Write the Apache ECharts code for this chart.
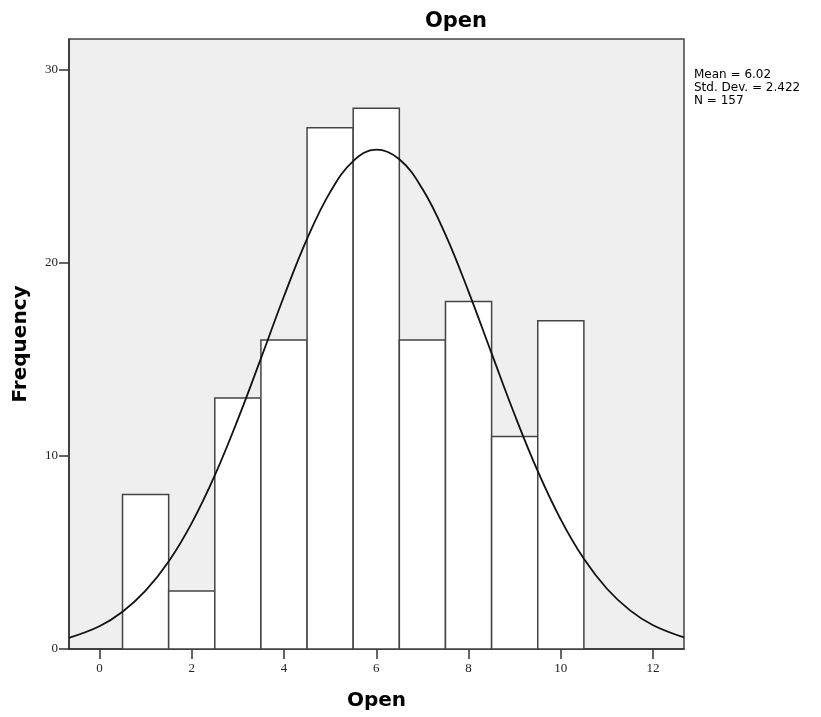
<!DOCTYPE html>
<html>
<head>
<meta charset="utf-8">
<script src="https://cdn.jsdelivr.net/npm/echarts@6/dist/echarts.min.js"></script>
<style>
  html, body { margin: 0; padding: 0; background: #fff; }
  #chart { width: 821px; height: 717px; }
</style>
</head>
<body>
<div id="chart"></div>
<script>
// 直方图分组：每个柱子的起点、终点
const binStart = [0.5, 1.5, 2.5, 3.5, 4.5, 5.5, 6.5, 7.5, 8.5, 9.5]
const binEnd = [1.5, 2.5, 3.5, 4.5, 5.5, 6.5, 7.5, 8.5, 9.5, 10.5]
// 每组频数
const frequency = [8, 3, 13, 16, 27, 28, 16, 18, 11, 17]

// 正态曲线（从图上读取的点）
const curveX = [-0.66, 0, 0.5, 1, 1.5, 2, 2.5, 3, 3.5, 4, 4.5, 5, 5.5, 6, 6.5, 7, 7.5, 8, 8.5, 9, 9.5, 10, 10.5, 11, 11.5, 12, 12.67]
const curveY = [0.58, 1.18, 1.93, 3.02, 4.53, 6.52, 8.99, 11.89, 15.05, 18.27, 21.24, 23.66, 25.27, 25.86, 25.36, 23.83, 21.46, 18.51, 15.31, 12.13, 9.21, 6.70, 4.67, 3.12, 2.00, 1.23, 0.60]

// 刻度标签
const xTicks = [0, 2, 4, 6, 8, 10, 12]
const yTicks = [0, 10, 20, 30]

// 统计信息
const statLines = ['Mean = 6.02', 'Std. Dev. = 2.422', 'N = 157']

const chart = echarts.init(document.getElementById('chart'))

const bars = frequency.map((v, i) => [binStart[i], binEnd[i], v])
const curve = curveX.map((x, i) => [x, curveY[i]])

const tickFont = { fontFamily: 'Liberation Serif', fontSize: 13, color: '#222' }
const nameFont = { fontFamily: 'DejaVu Sans', fontWeight: 'bold', fontSize: 20, color: '#000' }

chart.setOption({
  animation: false,
  title: {
    text: 'Open',
    left: 451,
    top: 6,
    textAlign: 'center',
    textStyle: Object.assign({}, nameFont, { fontSize: 21 })
  },
  grid: {
    left: 69,
    top: 39,
    width: 615,
    height: 610,
    outerBoundsMode: 'none',
    containLabel: false,
    show: true,
    backgroundColor: '#efefef',
    borderColor: '#444',
    borderWidth: 1.5
  },
  xAxis: {
    type: 'value',
    min: -0.66,
    max: 12.67,
    name: 'Open',
    nameLocation: 'middle',
    nameGap: 42,
    nameTextStyle: nameFont,
    axisLine: { show: true, onZero: false, lineStyle: { color: '#333', width: 1.5 } },
    axisTick: { show: true, inside: false, length: 10, customValues: xTicks, lineStyle: { color: '#333', width: 1.5 } },
    axisLabel: Object.assign({ customValues: xTicks, margin: 13 }, tickFont),
    splitLine: { show: false }
  },
  yAxis: {
    type: 'value',
    min: 0,
    max: 31.59,
    name: 'Frequency',
    nameLocation: 'middle',
    nameGap: 38,
    nameTextStyle: nameFont,
    axisLine: { show: true, onZero: false, lineStyle: { color: '#333', width: 1.5 } },
    axisTick: { show: true, inside: false, length: 10, customValues: yTicks, lineStyle: { color: '#333', width: 1.5 } },
    axisLabel: Object.assign({ customValues: yTicks, margin: 11 }, tickFont),
    splitLine: { show: false }
  },
  graphic: [{
    type: 'text',
    left: 694,
    top: 68,
    style: {
      text: statLines.join('\n'),
      font: '12px "DejaVu Sans"',
      lineHeight: 13,
      fill: '#000'
    }
  }],
  series: [{
    type: 'custom',
    data: bars,
    encode: { x: [0, 1], y: 2 },
    renderItem: function (params, api) {
      const p0 = api.coord([api.value(0), 0])
      const p1 = api.coord([api.value(1), api.value(2)])
      return {
        type: 'rect',
        shape: { x: p0[0], y: p1[1], width: p1[0] - p0[0], height: p0[1] - p1[1] },
        style: { fill: '#fff', stroke: '#444', lineWidth: 1.5 }
      }
    }
  }, {
    type: 'line',
    data: curve,
    smooth: 0.4,
    symbol: 'none',
    lineStyle: { color: '#111', width: 1.8 },
    z: 5
  }]
})
</script>
</body>
</html>
